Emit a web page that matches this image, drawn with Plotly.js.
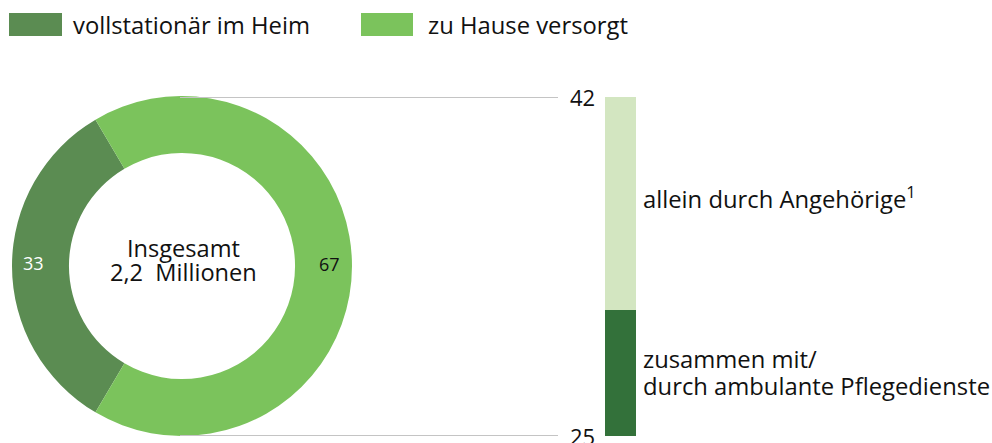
<!DOCTYPE html>
<html>
<head>
<meta charset="utf-8">
<script src="https://cdn.plot.ly/plotly-3.0.1.min.js"></script>
<style>html,body{margin:0;padding:0;background:#fff}#chart{width:992px;height:443px}</style>
</head>
<body>
<div id="chart"></div>
<script>
// ---- data ----
var pieLabels = ['vollstationär im Heim', 'zu Hause versorgt'];
var pieValues = [33, 67];
var barCategory = ['zu Hause versorgt'];
var barLabels = ['zusammen mit/<br>durch ambulante Pflegedienste', 'allein durch Angehörige<sup>1</sup>'];
var barValues = [25, 42];
var centerText = ['Insgesamt', '2,2  Millionen'];

// ---- styles ----
var W = 992, H = 443;
function px(x){ return x / W; }
function py(y){ return 1 - y / H; }
var FONT = '"Open Sans", "Noto Sans", sans-serif';
var pieColors = ['#5b8c52', '#7bc35c'];
var pieTextColors = ['#ffffff', '#111111'];
var barColors = ['#33713a', '#d3e6c1'];

var total = pieValues[0] + pieValues[1];
var darkAngle = pieValues[0] / total * 360;
var rot = 270 - darkAngle / 2;

var traces = [
  {
    type: 'pie',
    labels: pieLabels,
    values: pieValues,
    sort: false,
    direction: 'clockwise',
    rotation: rot,
    hole: 0.665,
    marker: {colors: pieColors, line: {width: 0}},
    textinfo: 'none',
    domain: {x: [px(12), px(352)], y: [py(436), py(96)]},
    hoverinfo: 'none',
    showlegend: false
  },
  {
    type: 'bar', x: barCategory, y: [barValues[0]], name: barLabels[0],
    marker: {color: barColors[0], line: {width: 0}}, width: 1,
    hoverinfo: 'none', showlegend: false
  },
  {
    type: 'bar', x: barCategory, y: [barValues[1]], name: barLabels[1],
    marker: {color: barColors[1], line: {width: 0}}, width: 1,
    hoverinfo: 'none', showlegend: false
  }
];

var barTotal = barValues[0] + barValues[1];
var lowerLines = barLabels[0].split('<br>');

function txt(x, y, text, size, opts){
  var a = {xref: 'paper', yref: 'paper', x: x, y: y, text: text, showarrow: false,
    font: {family: FONT, size: size, color: '#111'}, xanchor: 'center', yanchor: 'middle'};
  for (var k in (opts || {})) a[k] = opts[k];
  return a;
}

var annotations = [
  // centre of donut
  txt(px(183), py(248), centerText[0], 23.6),
  txt(px(183), py(272), centerText[1], 23.6),
  // donut values
  txt(px(33), py(263), String(pieValues[0]), 18, {font: {family: FONT, size: 18, color: pieTextColors[0]}}),
  txt(px(329), py(264), String(pieValues[1]), 18, {font: {family: FONT, size: 18, color: pieTextColors[1]}}),
  // bar end values
  txt(px(582), barTotal, String(barValues[1]), 22, {yref: 'y', y: barTotal, x: px(582), yanchor: 'middle'}),
  txt(px(582), 0, String(barValues[0]), 22, {yref: 'y', y: 0, x: px(582), yanchor: 'middle'}),
  // bar segment labels
  txt(px(641), py(197), barLabels[1], 23.8, {xanchor: 'left'}),
  txt(px(641), py(359), lowerLines[0], 23.8, {xanchor: 'left'}),
  txt(px(641), py(386), lowerLines[1], 23.8, {xanchor: 'left'}),
  // legend
  txt(px(71), py(25), pieLabels[0], 23.8, {xanchor: 'left'}),
  txt(px(426), py(25), pieLabels[1], 23.8, {xanchor: 'left'})
];

var shapes = [
  {type: 'rect', xref: 'paper', yref: 'paper', x0: px(9), x1: px(62), y0: py(36), y1: py(13),
   fillcolor: pieColors[0], line: {width: 0}},
  {type: 'rect', xref: 'paper', yref: 'paper', x0: px(361), x1: px(413), y0: py(36), y1: py(13),
   fillcolor: pieColors[1], line: {width: 0}},
  {type: 'line', xref: 'paper', yref: 'y', x0: px(180), x1: px(558), y0: barTotal, y1: barTotal,
   line: {color: '#c4c4c4', width: 2}},
  {type: 'line', xref: 'paper', yref: 'y', x0: px(180), x1: px(558), y0: 0, y1: 0,
   line: {color: '#c4c4c4', width: 2}}
];

var layout = {
  width: W, height: H,
  margin: {l: 0, r: 0, t: 0, b: 0},
  paper_bgcolor: '#ffffff', plot_bgcolor: 'rgba(0,0,0,0)',
  barmode: 'stack', bargap: 0,
  showlegend: false,
  font: {family: FONT, color: '#111'},
  xaxis: {domain: [px(605), px(636)], range: [-0.5, 0.5], visible: false, fixedrange: true},
  yaxis: {domain: [py(436), py(97)], range: [0, barTotal], visible: false, fixedrange: true},
  annotations: annotations,
  shapes: shapes
};

Plotly.newPlot('chart', traces, layout, {displayModeBar: false, staticPlot: true});
</script>
</body>
</html>
